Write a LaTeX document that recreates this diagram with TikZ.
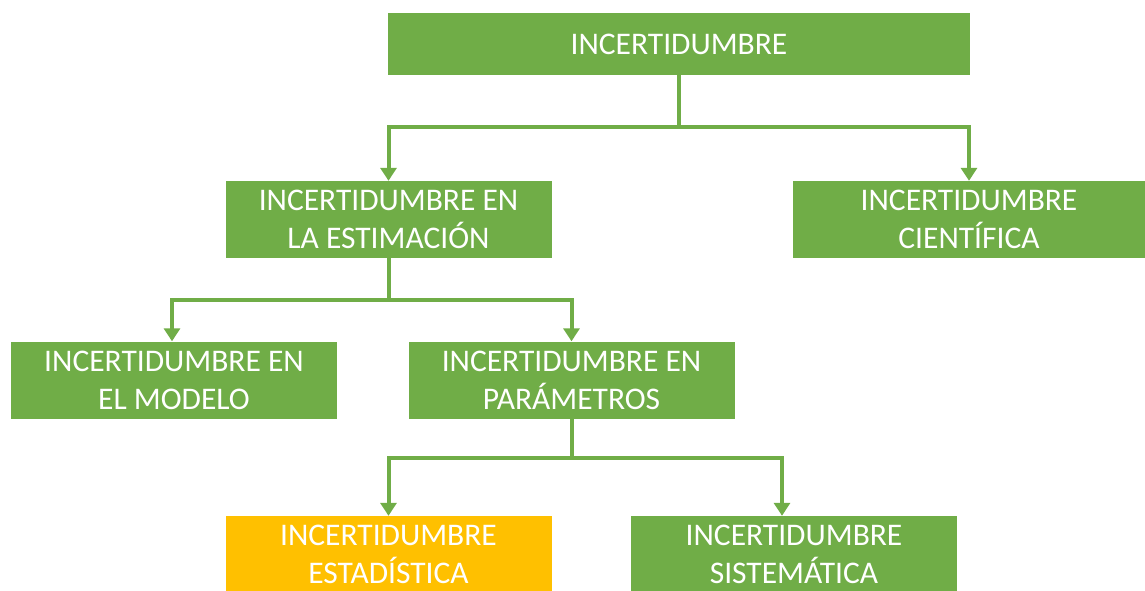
\documentclass[tikz,border=0pt]{standalone}
\usepackage{fontspec}
\setmainfont{Carlito}
\usetikzlibrary{arrows.meta, positioning}
\definecolor{hojaverde}{HTML}{70AD47}
\definecolor{ambar}{HTML}{FFC000}
\tikzset{
  caja/.style={rectangle, fill=hojaverde, text=white, align=center,
    minimum width=326pt, minimum height=77pt, inner sep=0pt,
    font=\fontsize{31.5}{38}\selectfont}, % every box of the tree
  enlace/.style={draw=hojaverde, line width=4pt,
    -{Triangle[width=16pt,length=13pt]}}, % the elbow arrows
}
\begin{document}
\begin{tikzpicture}[x=1pt, y=-1pt]
  \useasboundingbox (0,0) rectangle (1145,590);

  % Boxes
  \node[caja, minimum width=582pt, minimum height=62pt] (incert) at (679,44) {INCERTIDUMBRE};
  \node[caja] (estim) at (388.5,219.5) {INCERTIDUMBRE EN\\LA ESTIMACIÓN};
  \node[caja, minimum width=352pt] (cient) at (969,219.5) {INCERTIDUMBRE\\CIENTÍFICA};
  \node[caja] (modelo) at (174,380) {INCERTIDUMBRE EN\\EL MODELO};
  \node[caja] (param) at (571.5,380) {INCERTIDUMBRE EN\\PARÁMETROS};
  \node[caja, fill=ambar] (estad) at (388.5,554.5) {INCERTIDUMBRE\\ESTADÍSTICA};
  \node[caja] (sistem) at (794,554.5) {INCERTIDUMBRE\\SISTEMÁTICA};

  % Connectors
  \draw[enlace] (incert.south) -- ++(0,52) -| (estim.north);
  \draw[enlace] (incert.south) -- ++(0,52) -| (cient.north);
  \draw[enlace] (estim.south) -- ++(0,42) -| ([xshift=-2pt]modelo.north);
  \draw[enlace] (estim.south) -- ++(0,42) -| (param.north);
  \draw[enlace] (param.south) -- ++(0,39) -| (estad.north);
  \draw[enlace] (param.south) -- ++(0,39) -| ([xshift=-12pt]sistem.north);
\end{tikzpicture}
\end{document}
